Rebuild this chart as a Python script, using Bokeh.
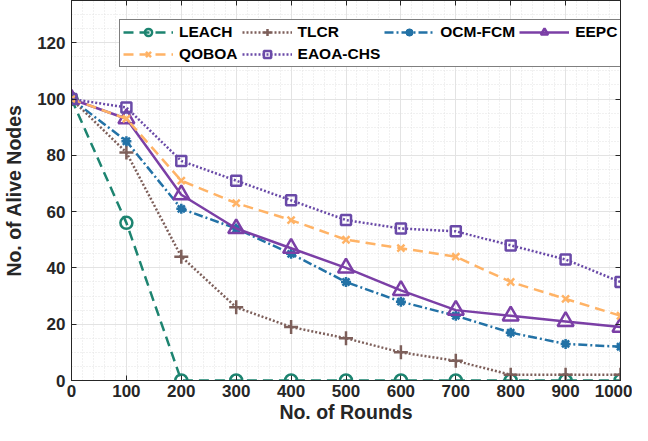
from bokeh.plotting import figure
from bokeh.models import Legend, LegendItem, LinearAxis, SingleIntervalTicker, Range1d, CustomLabelingPolicy
from bokeh.embed import file_html
from bokeh.resources import INLINE

rounds = [0, 100, 200, 300, 400, 500, 600, 700, 800, 900, 1000]
leach = [100, 56, 0, 0, 0, 0, 0, 0, 0, 0, 0]
tlcr = [100, 81, 44, 26, 19, 15, 10, 7, 2, 2, 2]
ocm_fcm = [100, 85, 61, 54, 45, 35, 28, 23, 17, 13, 12]
eepc = [100, 93, 66, 54, 47, 40, 32, 25, 23, 21, 19]
qoboa = [100, 93, 71, 63, 57, 50, 47, 44, 35, 29, 23]
eaoa_chs = [100, 97, 78, 71, 64, 57, 54, 53, 48, 43, 35]

FONT = "Liberation Sans"
TXT = "#262626"

p = figure(width=632, height=425, output_backend="svg", toolbar_location=None,
           x_range=Range1d(0, 1000), y_range=Range1d(0, 135),
           min_border_left=65, min_border_right=12, min_border_top=0, min_border_bottom=0,
           background_fill_color="white", border_fill_color="white")
p.outline_line_color = TXT
p.outline_line_width = 1

xt = SingleIntervalTicker(interval=100, num_minor_ticks=5)
yt = SingleIntervalTicker(interval=20, num_minor_ticks=4)
p.xaxis.ticker = xt
p.yaxis.ticker = yt

for ax in (p.xaxis[0], p.yaxis[0]):
    ax.major_label_text_font = FONT
    ax.major_label_text_font_style = "bold"
    ax.major_label_text_font_size = "17px"
    ax.major_label_text_color = TXT
    ax.axis_label_text_font = FONT
    ax.axis_label_text_font_style = "bold"
    ax.axis_label_text_font_size = "19.5px"
    ax.axis_label_text_color = TXT
    ax.axis_line_color = TXT
    ax.major_tick_in = 5
    ax.major_tick_out = 0
    ax.minor_tick_in = 0
    ax.minor_tick_out = 0
    ax.major_tick_line_color = TXT
p.xaxis.axis_label = "No. of Rounds"
p.yaxis.axis_label = "No. of Alive Nodes"
p.xaxis.major_label_standoff = 4
p.yaxis.major_label_standoff = 6
p.xaxis.axis_label_standoff = 1
p.yaxis.axis_label_standoff = 9

hide_all = CustomLabelingPolicy(code="const a = [...indices]; for (const i of a) indices.unset(i); return indices")
x_blank = {v: "" for v in rounds}
y_blank = {v: "" for v in range(0, 140, 20)}
for loc, tk, blank in (("above", xt, x_blank), ("right", yt, y_blank)):
    ax = LinearAxis(ticker=tk, major_tick_in=5, major_tick_out=0,
                    minor_tick_in=0, minor_tick_out=0, axis_line_color=TXT, major_tick_line_color=TXT,
                    major_label_standoff=0, major_label_policy=hide_all,
                    major_label_overrides=blank, major_label_text_font_size="1px")
    p.add_layout(ax, loc)

p.xgrid.grid_line_color = "#e3e3e3"
p.ygrid.grid_line_color = "#e3e3e3"
p.xgrid.minor_grid_line_color = "#e3e3e3"
p.ygrid.minor_grid_line_color = "#e3e3e3"
p.xgrid.minor_grid_line_dash = "1 2"
p.ygrid.minor_grid_line_dash = "1 2"

series = [
    ("LEACH", leach, "#1d8470", "10 6", "circle", 12, None),
    ("TLCR", tlcr, "#7d5f5a", "2 2", "cross", 14, None),
    ("OCM-FCM", ocm_fcm, "#2372a6", "9 3 2 3", "asterisk", 10, "fill"),
    ("EEPC", eepc, "#7b3fa6", "solid", "triangle", 16, None),
    ("QOBOA", qoboa, "#ffb366", "10 6", "x", 10, None),
    ("EAOA-CHS", eaoa_chs, "#6a4aa8", "2 2", "square", 10, None),
]

items = []
for name, ys, col, dash, mk, sz, fill in series:
    r1 = p.line(rounds, ys, line_color=col, line_width=2.5, line_dash=dash)
    r2 = p.scatter(rounds, ys, marker=mk, size=sz, line_color=col, line_width=2.5,
                   fill_color=col if fill else "white", fill_alpha=1.0 if fill else 0.0)
    if mk == "asterisk":
        r3 = p.scatter(rounds, ys, marker="circle", size=6, line_color=col, fill_color=col)
        items.append(LegendItem(label=name, renderers=[r1, r2, r3]))
    else:
        items.append(LegendItem(label=name, renderers=[r1, r2]))

legend = Legend(items=items, orientation="horizontal", ncols=4, location=(48, 313),
                border_line_color="#000000", border_line_width=1,
                background_fill_color="white", background_fill_alpha=1.0,
                label_text_font=FONT, label_text_font_style="bold", label_text_font_size="15.5px",
                label_text_color="#000000", glyph_width=50, glyph_height=18, label_standoff=6,
                spacing=4, padding=3, margin=0, label_height=18)
p.add_layout(legend, "center")

open("out.html", "w").write(file_html(p, INLINE))
